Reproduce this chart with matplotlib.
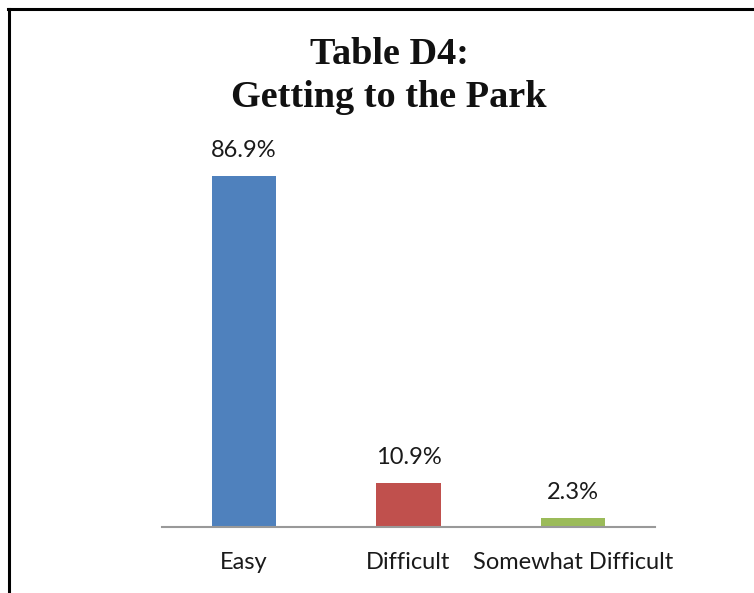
import matplotlib.pyplot as plt
from matplotlib.lines import Line2D

categories = ["Easy", "Difficult", "Somewhat Difficult"]
values = [86.9, 10.9, 2.3]
labels = ["86.9%", "10.9%", "2.3%"]
colors = ["#4F81BD", "#C0504D", "#9BBB59"]
title_lines = ["Table D4:", "Getting to the Park"]

W, H = 754, 593
fig = plt.figure(figsize=(W / 100, H / 100), dpi=100)
ax = fig.add_axes([162 / W, 1 - 527 / H, (655 - 162) / W, (527 - 123) / H])

x = range(len(categories))
ax.bar(x, values, width=0.39, color=colors)
for xi, v, lab in zip(x, values, labels):
    ax.annotate(lab, (xi, v), xytext=(0, 13.7), textcoords="offset points",
                ha="center", va="baseline", fontsize=17, family="Lato",
                color="#1a1a1a")

ax.set_xlim(-0.5, 2.5)
ax.set_ylim(0, 100)
ax.set_xticks(list(x))
ax.set_xticklabels(categories, fontsize=17, family="Lato", color="#1a1a1a",
                   va="baseline")
ax.tick_params(axis="x", length=0, pad=30.2)
ax.set_yticks([])
for s in ["top", "right", "left"]:
    ax.spines[s].set_visible(False)
ax.spines["bottom"].set_color("#999999")
ax.spines["bottom"].set_linewidth(1.5)

for line, yb in zip(title_lines, [64, 107]):
    fig.text(389 / W, 1 - yb / H, line, ha="center", va="baseline",
             fontsize=27.5, family="Liberation Serif", fontweight="bold",
             color="#111111")

fig.add_artist(Line2D([9 / W, 9 / W], [0, 1 - 9 / H], color="black", lw=2.2,
                      transform=fig.transFigure))
fig.add_artist(Line2D([8 / W, 1], [1 - 9 / H, 1 - 9 / H], color="black", lw=2.2,
                      transform=fig.transFigure))

fig.savefig("out.png", dpi=100)
